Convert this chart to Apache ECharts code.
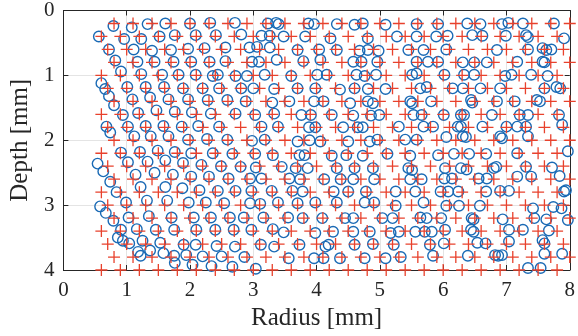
<!DOCTYPE html>
<html>
<head>
<meta charset="utf-8">
<script src="https://cdn.jsdelivr.net/npm/echarts@6/dist/echarts.min.js"></script>
<style>
  html, body { margin: 0; padding: 0; background: #fff; }
  #chart { width: 578px; height: 336px; }
</style>
</head>
<body>
<div id="chart"></div>
<script>
// reference lattice (red +): one row per depth, columns every 0.3 mm, each row shifted
var plusRowDepth = [0.2, 0.4, 0.6, 0.8, 1.0, 1.2, 1.4, 1.6, 1.8, 2.0,
                    2.2, 2.4, 2.6, 2.8, 3.0, 3.2, 3.4, 3.6, 3.8, 4.0];
var plusRowShift = [0.2, 0.0, 0.1, 0.2, 0.0, 0.1, 0.2, 0.0, 0.1, 0.2,
                    0.0, 0.1, 0.2, 0.0, 0.1, 0.2, 0.0, 0.1, 0.2, 0.0];
var plusColRadius = [0.6, 0.9, 1.2, 1.5, 1.8, 2.1, 2.4, 2.7, 3.0, 3.3, 3.6, 3.9, 4.2,
                     4.5, 4.8, 5.1, 5.4, 5.7, 6.0, 6.3, 6.6, 6.9, 7.2, 7.5, 7.8];

// measured points (blue o), [radius, depth] in mm
var circleLeft = [
  [0.79,0.24],[1.08,0.26],[1.33,0.21],[1.61,0.20],
  [0.56,0.40],[0.96,0.44],[1.23,0.44],[1.52,0.40],[1.76,0.38],
  [0.72,0.60],[1.11,0.60],[1.40,0.62],[1.70,0.61],
  [0.82,0.77],[1.17,0.79],[1.44,0.79],[1.74,0.79],
  [0.91,0.94],[1.23,0.98],[1.56,0.99],[1.82,0.99],
  [0.60,1.12],[0.66,1.21],[1.01,1.18],[1.30,1.18],[1.59,1.18],[1.89,1.20],
  [0.72,1.32],[0.80,1.46],[1.09,1.37],[1.37,1.34],[1.66,1.37],
  [0.94,1.61],[1.18,1.58],[1.47,1.54],[1.76,1.56],
  [0.68,1.79],[0.74,1.88],[1.02,1.79],[1.30,1.78],[1.58,1.78],[1.87,1.79],
  [1.12,1.94],[1.38,1.94],[1.66,1.94],
  [0.91,2.19],[1.21,2.18],[1.49,2.16],[1.76,2.18],
  [0.54,2.36],[0.63,2.48],[1.02,2.34],[1.33,2.33],[1.61,2.31],[1.89,2.35],
  [1.14,2.53],[1.44,2.50],[1.73,2.53],[0.74,2.64],
  [0.84,2.80],[1.22,2.72],[1.61,2.72],[1.88,2.74],
  [0.58,3.02],[0.67,3.12],[0.99,2.96],[1.32,2.93],[1.64,2.93],
  [0.79,3.24],[1.03,3.19],[1.35,3.17],[1.71,3.19],
  [0.91,3.38],[1.16,3.37],[1.46,3.38],[1.75,3.38],
  [0.86,3.50],[0.94,3.55],[1.04,3.59],[1.25,3.55],[1.53,3.58],[1.90,3.61],
  [1.18,3.72],[1.22,3.78],[1.37,3.70],[1.58,3.74],[1.75,3.78],[1.94,3.77],
  [1.76,3.89]
];
var circleMidLeft = [
  [2.00,0.20],[2.32,0.19],[2.71,0.19],[3.23,0.20],[3.36,0.19],[3.40,0.21],[3.87,0.20],
  [2.09,0.38],[2.41,0.38],[2.81,0.37],[3.13,0.39],[3.26,0.39],[3.48,0.40],[3.82,0.40],
  [1.97,0.59],[2.23,0.58],[2.56,0.57],[2.94,0.57],[3.06,0.56],[3.26,0.57],[3.70,0.61],
  [2.02,0.79],[2.31,0.79],[2.56,0.78],[2.98,0.79],[3.09,0.79],[3.37,0.76],[3.79,0.78],
  [2.09,0.99],[2.36,1.01],[2.44,0.99],[2.72,1.01],[2.90,1.01],[3.18,0.99],[3.60,1.01],
  [2.20,1.20],[2.46,1.20],[2.81,1.20],[3.00,1.20],[3.33,1.21],[3.70,1.20],
  [1.97,1.37],[2.28,1.38],[2.59,1.38],[2.88,1.40],[3.30,1.42],[3.57,1.40],
  [2.03,1.57],[2.33,1.59],[2.72,1.59],[3.03,1.61],[3.33,1.59],[3.76,1.61],
  [2.13,1.78],[2.46,1.79],[3.13,1.79],[3.39,1.79],
  [1.97,1.99],[2.27,1.98],[2.59,1.99],[2.98,2.01],[3.18,1.99],[3.70,2.02],[3.89,2.00],
  [2.02,2.20],[2.36,2.20],[2.67,2.21],[3.03,2.21],[3.31,2.23],[3.73,2.23],[3.81,2.23],
  [2.18,2.38],[2.49,2.40],[2.80,2.41],[3.04,2.42],[3.45,2.41],[3.67,2.43],
  [2.02,2.56],[2.30,2.56],[2.61,2.59],[2.95,2.59],[3.13,2.59],[3.57,2.59],[3.74,2.60],
  [2.15,2.77],[2.44,2.78],[2.72,2.78],[2.97,2.78],[3.29,2.78],[3.62,2.78],[3.78,2.79],
  [1.98,2.96],[2.25,2.96],[2.54,2.97],[2.95,2.97],[3.11,2.98],[3.39,2.96],[3.70,2.97],
  [2.06,3.19],[2.33,3.19],[2.63,3.19],[2.85,3.19],[3.16,3.19],[3.55,3.19],[3.78,3.20],
  [2.10,3.38],[2.40,3.38],[2.69,3.38],[2.97,3.38],[3.31,3.37],[3.48,3.42],
  [2.09,3.61],[2.42,3.63],[2.71,3.64],[3.12,3.61],[3.33,3.64],[3.73,3.61],
  [2.20,3.79],[2.50,3.79],[2.86,3.80],[3.56,3.82],
  [2.04,3.92],[2.34,3.94],[2.67,3.95],[3.04,3.98]
];
var circleMidRight = [
  [3.96,0.21],[4.32,0.21],[4.60,0.22],[4.73,0.20],[5.09,0.22],[5.58,0.21],[5.92,0.21],
  [4.22,0.43],[4.81,0.43],[5.27,0.40],[5.58,0.40],[5.89,0.40],
  [4.04,0.60],[4.32,0.61],[4.68,0.62],[4.81,0.61],[4.98,0.62],[5.45,0.61],[5.69,0.61],
  [4.06,0.76],[4.58,0.79],[4.71,0.79],[4.96,0.79],[5.58,0.79],[5.76,0.79],[5.92,0.79],
  [4.01,0.99],[4.16,0.99],[4.63,0.99],[4.76,1.01],[4.94,0.99],[5.51,0.99],[5.58,0.97],
  [3.98,1.20],[4.37,1.22],[4.60,1.20],[4.81,1.21],[5.09,1.21],[5.64,1.20],[5.74,1.18],
  [3.96,1.40],[4.11,1.40],[4.53,1.43],[4.81,1.40],[4.89,1.43],[5.48,1.40],[5.51,1.43],[5.81,1.40],
  [3.91,1.61],[4.24,1.61],[4.58,1.62],[4.86,1.62],[4.99,1.61],[5.53,1.61],[5.66,1.61],
  [3.88,1.80],[3.98,1.80],[4.42,1.80],[4.65,1.80],[4.73,1.80],[5.30,1.79],[5.69,1.79],
  [4.06,2.02],[4.50,2.02],[4.84,2.02],[4.96,1.99],[5.40,1.99],[5.58,1.99],
  [4.24,2.24],[4.47,2.23],[4.73,2.24],[5.12,2.21],[5.48,2.24],[5.92,2.23],
  [3.86,2.43],[4.32,2.43],[4.60,2.43],[4.89,2.43],[5.45,2.43],[5.51,2.46],
  [4.12,2.60],[4.38,2.60],[4.58,2.60],[4.91,2.60],[5.48,2.60],[5.66,2.60],
  [4.27,2.79],[4.50,2.79],[4.78,2.79],[5.25,2.79],[5.56,2.79],
  [3.98,2.96],[4.32,2.96],[4.76,2.96],[4.91,2.96],[5.25,3.01],[5.69,2.96],
  [4.09,3.20],[4.45,3.20],[4.58,3.20],[5.04,3.20],[5.20,3.20],[5.64,3.19],[5.74,3.20],
  [3.98,3.43],[4.26,3.41],[4.58,3.41],[4.84,3.41],[5.17,3.43],[5.30,3.41],[5.56,3.41],[5.71,3.41],
  [4.14,3.64],[4.19,3.61],[4.60,3.61],[4.89,3.60],[5.22,3.61],[5.79,3.61],
  [3.96,3.82],[4.11,3.82],[4.37,3.82],[4.76,3.82],[5.09,3.82],[5.33,3.80]
];
var circleRight = [
  [6.38,0.20],[6.59,0.21],[6.93,0.21],[7.03,0.19],[7.26,0.20],[7.75,0.20],
  [6.07,0.39],[6.46,0.38],[6.62,0.39],[6.99,0.39],[7.31,0.38],[7.34,0.41],[7.91,0.43],
  [6.05,0.60],[6.85,0.61],[7.34,0.60],[7.57,0.58],[7.63,0.61],[7.71,0.60],
  [6.31,0.80],[6.49,0.80],[6.69,0.80],[7.17,0.79],[7.57,0.79],[7.60,0.80],
  [6.02,0.99],[6.33,0.99],[6.49,0.99],[6.98,1.01],[7.08,0.99],[7.39,0.99],[7.65,1.01],
  [6.15,1.20],[6.31,1.20],[6.59,1.20],[6.90,1.20],[7.60,1.20],[7.79,1.18],[7.85,1.20],
  [6.44,1.38],[6.46,1.42],[6.85,1.40],[7.13,1.40],[7.48,1.38],[7.53,1.40],
  [6.01,1.61],[6.28,1.61],[6.33,1.61],[6.77,1.61],[7.21,1.61],[7.34,1.61],[7.83,1.61],
  [5.84,1.79],[6.23,1.79],[6.28,1.79],[6.62,1.79],[7.00,1.79],[7.17,1.79],[7.31,1.79],[7.88,1.76],
  [6.05,1.95],[6.31,1.94],[6.36,1.95],[6.90,1.94],[6.93,1.97],[7.34,1.94],
  [6.17,2.21],[6.41,2.21],[6.68,2.21],[7.17,2.20],[7.97,2.17],
  [6.03,2.43],[6.28,2.43],[6.37,2.45],[6.80,2.43],[6.84,2.41],[7.31,2.41],[7.72,2.42],
  [6.02,2.59],[6.14,2.59],[6.56,2.59],[6.69,2.59],[7.17,2.56],[7.39,2.56],[7.84,2.55],
  [5.96,2.79],[6.08,2.79],[6.24,2.79],[6.68,2.79],[6.90,2.78],[7.04,2.78],[7.91,2.79],[7.94,2.77],
  [6.05,3.01],[6.25,3.01],[6.58,3.01],[7.42,3.05],[7.74,3.03],[7.87,3.05],
  [5.97,3.20],[6.45,3.20],[6.48,3.22],[6.94,3.22],[7.44,3.20],[7.63,3.22],[7.97,3.23],
  [5.82,3.41],[6.03,3.38],[6.44,3.38],[6.48,3.41],[7.04,3.38],[7.26,3.38],[7.67,3.39],
  [6.01,3.59],[6.54,3.58],[6.67,3.59],[7.04,3.56],[7.57,3.54],[7.60,3.59],
  [5.84,3.78],[6.39,3.78],[6.82,3.77],[6.87,3.78],[6.93,3.77],[7.60,3.75],[7.88,3.75],
  [7.34,3.97],[7.54,3.97]
];

var xTicks = [0, 1, 2, 3, 4, 5, 6, 7, 8];
var yTicks = [0, 1, 2, 3, 4];

var plusPts = [];
plusRowDepth.forEach(function (d, i) {
  plusColRadius.forEach(function (r) {
    plusPts.push([+(r + plusRowShift[i]).toFixed(2), d]);
  });
});
var circlePts = circleLeft.concat(circleMidLeft, circleMidRight, circleRight);

var FONT = '"Liberation Serif", "DejaVu Serif", serif';
var INK = '#262626';

var myChart = echarts.init(document.getElementById('chart'));

function axisBase(extra) {
  var a = {
    type: 'value',
    axisLine: { show: true, onZero: false, lineStyle: { color: INK, width: 1 } },
    axisTick: { show: true, inside: true, length: 5, lineStyle: { color: INK, width: 1 } },
    splitLine: { show: false },
    axisLabel: { show: false }
  };
  return Object.assign(a, extra);
}

myChart.setOption({
  animation: false,
  backgroundColor: '#fff',
  textStyle: { fontFamily: FONT },
  grid: { left: 54, right: 7, top: 10, bottom: 66, containLabel: false },
  xAxis: [
    axisBase({
      min: xTicks[0], max: xTicks[xTicks.length - 1], interval: 1, position: 'bottom',
      splitLine: { show: true, lineStyle: { color: '#e4e4e4', width: 1 } },
      axisLabel: { show: true, fontFamily: FONT, fontSize: 21, color: INK, margin: 10 },
      name: 'Radius [mm]', nameLocation: 'middle', nameGap: 36,
      nameTextStyle: { fontFamily: FONT, fontSize: 25, color: INK }
    }),
    axisBase({ min: xTicks[0], max: xTicks[xTicks.length - 1], interval: 1, position: 'top' })
  ],
  yAxis: [
    axisBase({
      min: yTicks[0], max: yTicks[yTicks.length - 1], interval: 1, inverse: true, position: 'left',
      splitLine: { show: true, lineStyle: { color: '#e4e4e4', width: 1 } },
      axisLabel: { show: true, fontFamily: FONT, fontSize: 21, color: INK, margin: 9 },
      name: 'Depth [mm]', nameLocation: 'middle', nameGap: 30, nameRotate: 90,
      nameTextStyle: { fontFamily: FONT, fontSize: 25, color: INK }
    }),
    axisBase({ min: yTicks[0], max: yTicks[yTicks.length - 1], interval: 1, inverse: true, position: 'right' })
  ],
  series: [
    {
      name: 'measured',
      type: 'scatter',
      xAxisIndex: 0, yAxisIndex: 0,
      symbol: 'circle',
      symbolSize: 10.5,
      itemStyle: { color: 'rgba(0,0,0,0)', borderColor: '#1a6ab5', borderWidth: 1.4, opacity: 1 },
      data: circlePts,
      z: 2
    },
    {
      name: 'reference',
      type: 'scatter',
      xAxisIndex: 0, yAxisIndex: 0,
      symbol: 'path://M6,0V12M0,6H12',
      symbolSize: 12,
      itemStyle: { color: 'none', borderColor: '#e8412c', borderWidth: 1.3, opacity: 1 },
      data: plusPts,
      z: 3
    }
  ]
});
</script>
</body>
</html>
